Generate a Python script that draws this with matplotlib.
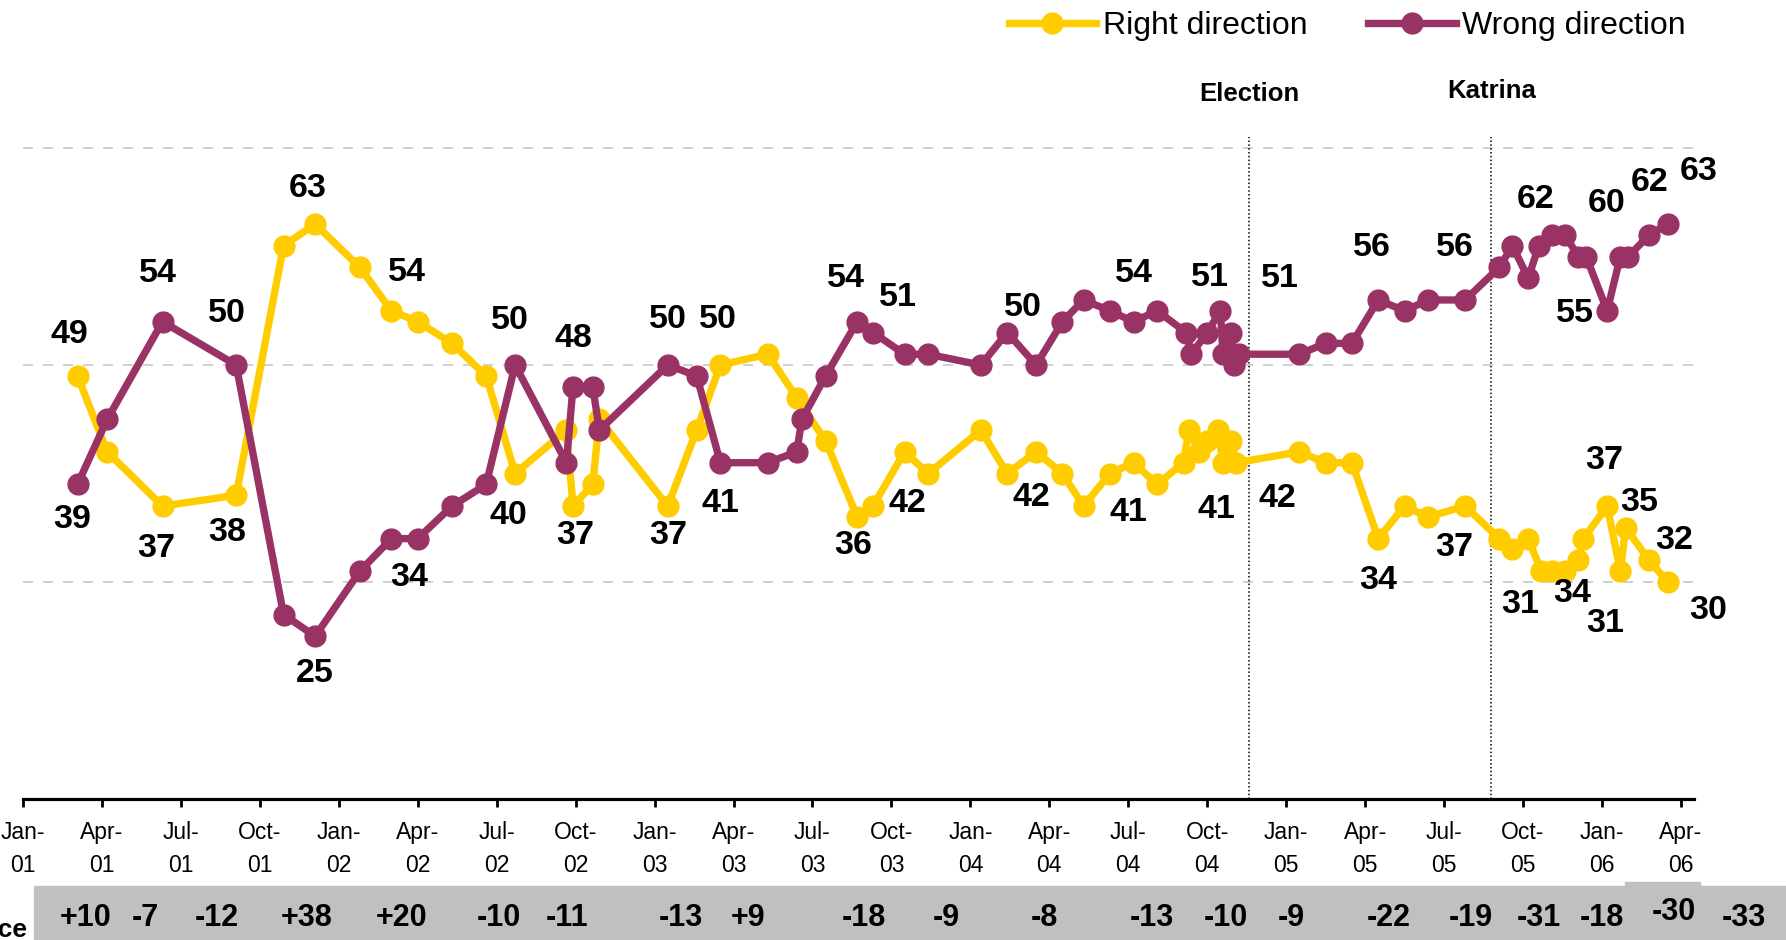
import matplotlib
matplotlib.use("Agg")
import matplotlib.pyplot as plt
import matplotlib.transforms as mtransforms
from matplotlib.patches import Rectangle

# months since Jan 2001 (0 = Jan-01)
right_x = [2.07, 3.2, 5.3, 8.1, 9.9, 11.1, 12.8, 14.0, 15.0, 16.3, 17.6, 18.7,
           20.65, 20.9, 21.65, 21.9, 24.5, 25.6, 26.5, 28.3, 29.4, 30.5, 31.7, 32.3,
           33.5, 34.4, 36.4, 37.4, 38.5, 39.5, 40.3, 41.3, 42.2, 43.1,
           44.1, 44.3, 44.7, 45.0, 45.4, 45.6, 45.9, 46.1,
           48.5, 49.5, 50.5, 51.5, 52.5, 53.4, 54.8,
           56.1, 56.6, 57.2, 57.7, 58.1, 58.6, 59.1, 59.3, 60.2, 60.7, 60.9, 61.8, 62.5]
right_v = [49, 42, 37, 38, 61, 63, 59, 55, 54, 52, 49, 40,
           44, 37, 39, 45, 37, 44, 50, 51, 47, 43, 36, 37,
           42, 40, 44, 40, 42, 40, 37, 40, 41, 39,
           41, 44, 42, 43, 44, 41, 43, 41,
           42, 41, 41, 34, 37, 36, 37,
           34, 33, 34, 31, 31, 31, 32, 34, 37, 31, 35, 32, 30]

wrong_x = [2.07, 3.2, 5.3, 8.1, 9.9, 11.1, 12.8, 14.0, 15.0, 16.3, 17.6, 18.7,
           20.65, 20.9, 21.65, 21.9, 24.5, 25.6, 26.5, 28.3, 29.4, 29.6, 30.5, 31.7, 32.3,
           33.5, 34.4, 36.4, 37.4, 38.5, 39.5, 40.3, 41.3, 42.2, 43.1,
           44.2, 44.4, 45.0, 45.5, 45.6, 45.9, 46.0, 46.2,
           48.5, 49.5, 50.5, 51.5, 52.5, 53.4, 54.8,
           56.1, 56.6, 57.2, 57.6, 58.1, 58.6, 59.1, 59.4, 60.2, 60.7, 61.0, 61.8, 62.5]
wrong_v = [39, 45, 54, 50, 27, 25, 31, 34, 34, 37, 39, 50,
           41, 48, 48, 44, 50, 49, 41, 41, 42, 45, 49, 54, 53,
           51, 51, 50, 53, 50, 54, 56, 55, 54, 55,
           53, 51, 53, 55, 51, 53, 50, 51,
           51, 52, 52, 56, 55, 56, 56,
           59, 61, 58, 61, 62, 62, 60, 60, 55, 60, 60, 62, 63]

# which points carry a value label, with label offset (pixels)
right_labels = [(0, -8, 41), (2, -6, -42), (3, -9, -37), (5, -7, 36), (8, -11, 49),
                (11, -7, -42), (13, 2, -29), (16, 0, -29), (18, -2, 46), (22, -4, -29),
                (24, 3, -52), (28, -5, -46), (32, -5, -50), (39, -7, -47), (42, -22, -47),
                (45, 0, -42), (48, -11, -41), (52, -21, -33), (56, -11, -55), (57, -3, 46),
                (58, -15, -52), (59, 14, 25), (60, 25, 20), (61, 40, -28)]
wrong_labels = [(0, -5, -35), (2, -5, 48), (3, -9, 52), (5, 0, -37), (8, -9, -39),
                (11, -5, 45), (13, 0, 48), (16, 0, 46), (18, 0, -41), (23, -11, 43),
                (25, -7, 57), (29, -13, 58), (33, 0, 48), (39, -13, 77), (43, -19, 76),
                (46, -6, 52), (49, -10, 52), (54, -16, 35), (58, -32, -3), (59, -14, 53),
                (61, 0, 52), (62, 31, 53)]

tick_months = list(range(0, 64, 3))
tick_labels = [f"{m}-\n{y:02d}" for y in range(1, 7) for m in ["Jan", "Apr", "Jul", "Oct"]][:len(tick_months)]

events = ["Election", "Katrina"]
event_x = [46.6, 55.8]

diff_text = ["+10", "-7", "-12", "+38", "+20", "-10", "-11", "-13", "+9", "-18", "-9",
             "-8", "-13", "-10", "-9", "-22", "-19", "-31", "-18", "-30", "-33"]
diff_x = [2.36, 4.65, 7.38, 10.77, 14.37, 18.08, 20.69, 25.0, 27.57, 31.94, 35.1,
          38.8, 42.9, 45.7, 48.2, 51.9, 55.0, 57.6, 60.0, 62.75, 65.4]

YELLOW = "#FFCC00"
PLUM = "#993366"
NARROW = ["Liberation Sans Narrow", "Liberation Sans", "DejaVu Sans"]

fig = plt.figure(figsize=(17.86, 9.40), dpi=100)
ax = fig.add_axes([0.0129, 0.15, 0.9356, 0.704])

for v in [30, 50, 70]:
    ax.axhline(v, color="#C8C8C8", lw=1.2, ls=(0, (6, 6)), zorder=0)
for xe in event_x:
    ax.axvline(xe, color="black", lw=1.1, ls=(0, (1, 1.5)), zorder=1)

line_r, = ax.plot(right_x, right_v, color=YELLOW, lw=5.3, marker="o", ms=15,
                  label="Right direction", zorder=3)
line_w, = ax.plot(wrong_x, wrong_v, color=PLUM, lw=5.3, marker="o", ms=15,
                  label="Wrong direction", zorder=4)

for xs, vs, labs in [(right_x, right_v, right_labels), (wrong_x, wrong_v, wrong_labels)]:
    for i, dx, dy in labs:
        ax.annotate(str(vs[i]), (xs[i], vs[i]), xytext=(dx, dy), textcoords="offset pixels",
                    ha="center", va="center", fontsize=24.5, fontweight="bold",
                    family=NARROW, zorder=6)

for name, xe, yy in zip(events, event_x, [1.065, 1.07]):
    ax.text(xe, yy, name, transform=ax.get_xaxis_transform(), ha="center", va="center",
            fontsize=18.5, fontweight="bold", family=NARROW)

ax.set_xlim(0, 63.5)
ax.set_ylim(10, 71)
ax.set_xticks(tick_months)
ax.set_xticklabels(tick_labels, family=NARROW, fontsize=16.5, linespacing=1.55)
ax.tick_params(axis="x", direction="out", length=6, width=2, pad=10)
ax.set_yticks([])
for s in ["left", "right", "top"]:
    ax.spines[s].set_visible(False)
ax.spines["bottom"].set_linewidth(2.3)

# difference strip along the bottom
fig.patches.append(Rectangle((34 / 1786, 0), 1, 54 / 940, transform=fig.transFigure,
                             color="#C0C0C0", zorder=0))
fig.patches.append(Rectangle((1625 / 1786, 0), 75 / 1786, 58 / 940, transform=fig.transFigure,
                             color="#C0C0C0", zorder=0))
trans = mtransforms.blended_transform_factory(ax.transData, fig.transFigure)
for t, xd in zip(diff_text, diff_x):
    yy = 0.030 if t == "-30" and xd > 62 else 0.0234
    fig.text(xd, yy, t, transform=trans, ha="center", va="center", fontsize=22,
             fontweight="bold", family=NARROW)
fig.text(0.015, 0.003, "Difference", ha="right", va="baseline", fontsize=19,
         fontweight="bold", family=NARROW)

fig.legend(handles=[line_r, line_w], loc="upper right", bbox_to_anchor=(0.944, 0.988),
           ncol=2, frameon=False, prop={"family": NARROW, "size": 23},
           handlelength=2.75, handletextpad=0.2, columnspacing=1.9,
           borderpad=0, borderaxespad=0)

fig.savefig("out.png", dpi=100)
